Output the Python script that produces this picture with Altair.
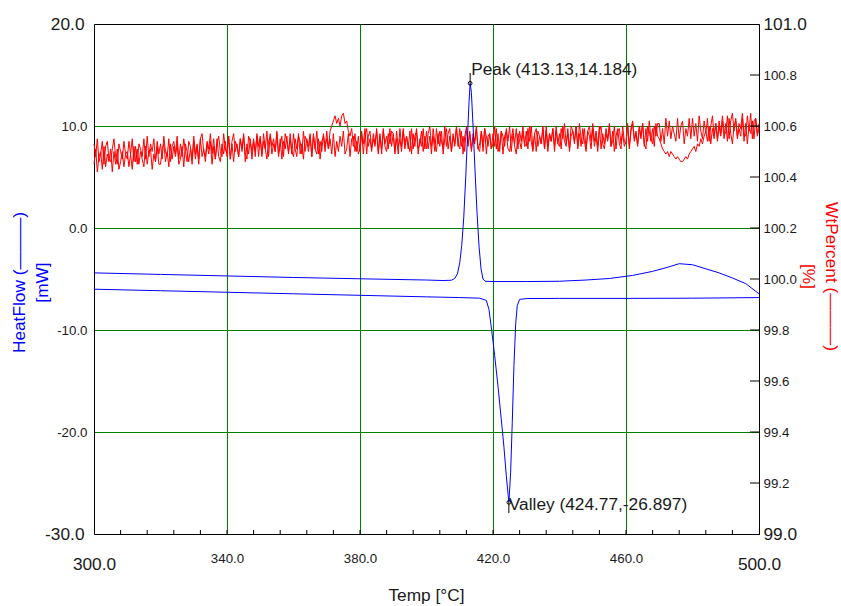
import altair as alt
import pandas as pd

# ---------------- data ----------------
# HeatFlow, heating run (upper blue trace)
t_up = [300, 320, 340, 360, 380, 400, 405, 407.5, 408.5, 409.3, 410.0, 410.6, 411.2, 411.8,
        412.3, 412.8, 413.13, 413.5, 414.0, 414.6, 415.2, 415.8, 416.4, 417.0, 417.6, 420,
        430, 440, 448, 455, 462, 468, 472, 476, 480, 484, 488, 492, 496, 500]
v_up = [-4.40, -4.55, -4.70, -4.85, -4.98, -5.10, -5.15, -5.12, -4.95, -4.50, -3.40, -1.70,
        1.00, 5.00, 8.80, 12.40, 14.184, 13.30, 10.00, 5.60, 1.50, -1.80, -4.00, -5.00, -5.22,
        -5.25, -5.25, -5.22, -5.10, -4.95, -4.65, -4.25, -3.90, -3.50, -3.60, -4.00, -4.40,
        -4.90, -5.45, -6.45]

# HeatFlow, cooling run (lower blue trace)
t_lo = [300, 320, 340, 360, 380, 400, 410, 416, 418, 418.8, 419.6, 420.5, 421.5, 422.5, 423.3,
        424.0, 424.77, 425.3, 425.8, 426.3, 426.8, 427.3, 428.0, 430, 440, 460, 480, 500]
v_lo = [-6.00, -6.15, -6.30, -6.45, -6.60, -6.75, -6.82, -6.88, -7.10, -8.00, -10.00, -12.50,
        -15.50, -18.80, -21.50, -24.30, -26.897, -24.00, -19.00, -13.50, -9.50, -7.60, -7.00,
        -6.92, -6.90, -6.90, -6.88, -6.82]

# WtPercent, sampled every 0.5 degC from 300 to 500 (two runs), one line per 10 degC
temps_wt = [300 + 0.5 * i for i in range(401)]
wt_a = [
    100.53, 100.48, 100.55, 100.46, 100.49, 100.54, 100.45, 100.52, 100.54, 100.47, 100.46, 100.51, 100.55, 100.48, 100.45, 100.53, 100.50, 100.47, 100.54, 100.49,
    100.47, 100.54, 100.49, 100.55, 100.46, 100.52, 100.45, 100.53, 100.51, 100.48, 100.55, 100.47, 100.56, 100.48, 100.53, 100.50, 100.55, 100.46, 100.54, 100.49,
    100.53, 100.47, 100.56, 100.50, 100.48, 100.55, 100.46, 100.52, 100.54, 100.49, 100.56, 100.47, 100.53, 100.48, 100.55, 100.50, 100.46, 100.54, 100.52, 100.47,
    100.56, 100.49, 100.53, 100.47, 100.55, 100.57, 100.50, 100.48, 100.54, 100.51, 100.57, 100.49, 100.55, 100.47, 100.53, 100.56, 100.50, 100.48, 100.57, 100.51,
    100.49, 100.56, 100.47, 100.54, 100.57, 100.50, 100.53, 100.48, 100.55, 100.51, 100.57, 100.49, 100.47, 100.56, 100.54, 100.50, 100.55, 100.48, 100.57, 100.52,
    100.56, 100.49, 100.54, 100.51, 100.58, 100.48, 100.57, 100.52, 100.55, 100.50, 100.58, 100.49, 100.52, 100.56, 100.48, 100.57, 100.54, 100.50, 100.55, 100.49,
    100.57, 100.51, 100.48, 100.56, 100.54, 100.49, 100.58, 100.50, 100.55, 100.52, 100.57, 100.48, 100.56, 100.51, 100.58, 100.49, 100.54, 100.50, 100.57, 100.52,
    100.55, 100.51, 100.58, 100.60, 100.62, 100.64, 100.61, 100.63, 100.60, 100.64, 100.65, 100.61, 100.62, 100.58, 100.56, 100.59, 100.52, 100.57, 100.50, 100.56,
    100.50, 100.57, 100.53, 100.59, 100.49, 100.56, 100.58, 100.51, 100.55, 100.52, 100.59, 100.50, 100.57, 100.49, 100.58, 100.53, 100.56, 100.51, 100.59, 100.52,
    100.57, 100.49, 100.58, 100.52, 100.55, 100.50, 100.59, 100.53, 100.56, 100.51, 100.58, 100.49, 100.57, 100.52, 100.59, 100.51, 100.53, 100.58, 100.50, 100.56,
    100.51, 100.57, 100.60, 100.52, 100.56, 100.50, 100.59, 100.53, 100.58, 100.54, 100.51, 100.60, 100.52, 100.57, 100.59, 100.50, 100.56, 100.53, 100.60, 100.52,
    100.59, 100.52, 100.56, 100.50, 100.60, 100.53, 100.58, 100.51, 100.57, 100.54, 100.60, 100.51, 100.53, 100.58, 100.50, 100.59, 100.56, 100.52, 100.57, 100.51,
    100.53, 100.60, 100.51, 100.57, 100.50, 100.58, 100.56, 100.52, 100.59, 100.54, 100.60, 100.50, 100.57, 100.53, 100.59, 100.51, 100.58, 100.54, 100.60, 100.52,
    100.58, 100.51, 100.60, 100.54, 100.50, 100.57, 100.59, 100.52, 100.56, 100.53, 100.60, 100.51, 100.58, 100.50, 100.57, 100.54, 100.59, 100.52, 100.60, 100.53,
    100.52, 100.59, 100.55, 100.61, 100.53, 100.57, 100.51, 100.60, 100.58, 100.54, 100.60, 100.52, 100.61, 100.55, 100.53, 100.59, 100.51, 100.58, 100.60, 100.54,
    100.61, 100.54, 100.58, 100.52, 100.60, 100.51, 100.57, 100.53, 100.59, 100.55, 100.61, 100.52, 100.54, 100.60, 100.51, 100.58, 100.59, 100.53, 100.57, 100.52,
    100.54, 100.61, 100.52, 100.59, 100.62, 100.55, 100.58, 100.53, 100.60, 100.56, 100.61, 100.52, 100.59, 100.54, 100.62, 100.55, 100.53, 100.60, 100.56, 100.61,
    100.61, 100.54, 100.59, 100.53, 100.63, 100.56, 100.62, 100.55, 100.60, 100.57, 100.54, 100.63, 100.55, 100.60, 100.62, 100.53, 100.59, 100.56, 100.63, 100.55,
    100.63, 100.56, 100.61, 100.54, 100.64, 100.58, 100.55, 100.62, 100.57, 100.63, 100.54, 100.60, 100.64, 100.56, 100.61, 100.55, 100.62, 100.57, 100.64, 100.58,
    100.57, 100.64, 100.55, 100.62, 100.65, 100.58, 100.63, 100.56, 100.61, 100.59, 100.65, 100.57, 100.56, 100.64, 100.58, 100.65, 100.55, 100.62, 100.63, 100.57,
    100.61,
]
wt_b = [
    100.45, 100.51, 100.42, 100.48, 100.50, 100.43, 100.52, 100.44, 100.49, 100.46, 100.51, 100.42, 100.50, 100.45, 100.51, 100.43, 100.46, 100.50, 100.44, 100.49,
    100.50, 100.44, 100.49, 100.43, 100.52, 100.46, 100.51, 100.45, 100.50, 100.47, 100.44, 100.52, 100.45, 100.50, 100.51, 100.43, 100.49, 100.46, 100.52, 100.45,
    100.45, 100.51, 100.53, 100.46, 100.50, 100.44, 100.53, 100.47, 100.52, 100.48, 100.53, 100.45, 100.47, 100.52, 100.44, 100.53, 100.50, 100.46, 100.51, 100.45,
    100.54, 100.47, 100.52, 100.45, 100.55, 100.48, 100.51, 100.46, 100.53, 100.49, 100.54, 100.45, 100.52, 100.47, 100.55, 100.48, 100.46, 100.53, 100.49, 100.54,
    100.48, 100.56, 100.47, 100.53, 100.46, 100.54, 100.52, 100.48, 100.55, 100.50, 100.56, 100.46, 100.53, 100.49, 100.55, 100.47, 100.54, 100.50, 100.56, 100.48,
    100.55, 100.48, 100.57, 100.51, 100.47, 100.54, 100.56, 100.49, 100.53, 100.50, 100.57, 100.48, 100.55, 100.47, 100.54, 100.51, 100.56, 100.49, 100.57, 100.50,
    100.48, 100.55, 100.51, 100.57, 100.49, 100.53, 100.47, 100.56, 100.54, 100.50, 100.56, 100.48, 100.57, 100.51, 100.49, 100.55, 100.47, 100.54, 100.56, 100.50,
    100.58, 100.51, 100.55, 100.49, 100.57, 100.48, 100.54, 100.50, 100.56, 100.52, 100.58, 100.49, 100.51, 100.57, 100.48, 100.55, 100.56, 100.50, 100.54, 100.49,
    100.51, 100.58, 100.49, 100.56, 100.59, 100.52, 100.55, 100.50, 100.57, 100.53, 100.58, 100.49, 100.56, 100.51, 100.59, 100.52, 100.50, 100.57, 100.53, 100.58,
    100.57, 100.50, 100.55, 100.49, 100.59, 100.52, 100.58, 100.51, 100.56, 100.53, 100.50, 100.59, 100.51, 100.56, 100.58, 100.49, 100.55, 100.52, 100.59, 100.51,
    100.58, 100.51, 100.56, 100.49, 100.59, 100.53, 100.50, 100.57, 100.52, 100.58, 100.49, 100.55, 100.59, 100.51, 100.56, 100.50, 100.57, 100.52, 100.59, 100.53,
    100.51, 100.58, 100.49, 100.56, 100.59, 100.52, 100.57, 100.50, 100.55, 100.53, 100.59, 100.51, 100.50, 100.58, 100.52, 100.59, 100.49, 100.56, 100.57, 100.51,
    100.57, 100.52, 100.59, 100.50, 100.53, 100.58, 100.49, 100.56, 100.58, 100.51, 100.50, 100.55, 100.59, 100.52, 100.49, 100.57, 100.54, 100.51, 100.58, 100.53,
    100.52, 100.59, 100.54, 100.60, 100.51, 100.57, 100.50, 100.58, 100.56, 100.53, 100.59, 100.51, 100.60, 100.52, 100.57, 100.54, 100.59, 100.50, 100.58, 100.53,
    100.57, 100.51, 100.60, 100.54, 100.52, 100.59, 100.50, 100.56, 100.58, 100.53, 100.60, 100.51, 100.57, 100.52, 100.59, 100.54, 100.50, 100.58, 100.56, 100.51,
    100.59, 100.52, 100.56, 100.50, 100.58, 100.60, 100.53, 100.51, 100.57, 100.54, 100.60, 100.52, 100.58, 100.50, 100.56, 100.59, 100.53, 100.51, 100.60, 100.54,
    100.53, 100.60, 100.51, 100.58, 100.61, 100.54, 100.57, 100.52, 100.59, 100.55, 100.61, 100.53, 100.51, 100.60, 100.58, 100.54, 100.59, 100.52, 100.61, 100.56,
    100.55, 100.53, 100.51, 100.50, 100.49, 100.50, 100.48, 100.50, 100.49, 100.48, 100.47, 100.48, 100.47, 100.46, 100.46, 100.47, 100.48, 100.47, 100.49, 100.50,
    100.51, 100.52, 100.50, 100.53, 100.52, 100.55, 100.53, 100.56, 100.58, 100.54, 100.60, 100.53, 100.59, 100.55, 100.61, 100.54, 100.60, 100.56, 100.62, 100.55,
    100.61, 100.54, 100.63, 100.57, 100.53, 100.60, 100.62, 100.55, 100.59, 100.56, 100.63, 100.54, 100.61, 100.53, 100.60, 100.57, 100.62, 100.55, 100.63, 100.56,
    100.59,
]
assert len(wt_a) == len(temps_wt) and len(wt_b) == len(temps_wt)

# axis tick values
x_major = [300, 340, 380, 420, 460, 500]
x_minor = [308, 316, 324, 332, 340, 348, 356, 364, 372, 380, 388, 396, 404, 412, 420, 428,
           436, 444, 452, 460, 468, 476, 484, 492]
hf_ticks = [20, 10, 0, -10, -20, -30]
wt_ticks = [99.0, 99.2, 99.4, 99.6, 99.8, 100.0, 100.2, 100.4, 100.6, 100.8, 101.0]
wt_inner_ticks = [99.2, 99.4, 99.6, 99.8, 100.0, 100.2, 100.4, 100.6, 100.8]

# annotations
peak = {"t": 413.13, "v": 14.184, "label": "Peak (413.13,14.184)", "v2": 15.2}
valley = {"t": 424.77, "v": -26.897, "label": "Valley (424.77,-26.897)", "v2": -27.95}

# ---------------- tables ----------------
hf_df = pd.DataFrame({
    "t": t_up + t_lo,
    "v": v_up + v_lo,
    "run": ["heat"] * len(t_up) + ["cool"] * len(t_lo),
})
wt_df = pd.DataFrame({
    "t": temps_wt + temps_wt,
    "w": wt_a + wt_b,
    "run": ["a"] * len(temps_wt) + ["b"] * len(temps_wt),
})
peak_df = pd.DataFrame([peak])
valley_df = pd.DataFrame([valley])

FONT = "Liberation Sans"
GREEN = "#008000"
TXT = "#1a1a1a"

def cond(test, a, b):
    return {"condition": {"test": test, "value": a}, "value": b}

x_axis = alt.Axis(
    values=x_major, format=".1f", title="Temp [°C]", orient="bottom",
    grid=True, gridColor=GREEN, gridWidth=1,
    gridOpacity=cond("datum.value == 300 || datum.value == 500", 0, 1),
    ticks=False, domainColor="black",
    labelFont=FONT, labelColor=TXT, labelBaseline="middle",
    labelFontSize=cond("datum.value == 300 || datum.value == 500", 17.3, 13.3),
    labelPadding=cond("datum.value == 300 || datum.value == 500", 30, 24),
    labelFlush=False, labelOverlap=False,
    titleFont=FONT, titleFontSize=17.3, titleFontWeight="normal", titleColor=TXT,
    titleX=332, titleY=61, titleAlign="center", titleBaseline="middle",
)
left_axis = alt.Axis(
    values=hf_ticks, orient="left",
    labelExpr="replace(format(datum.value, '.1f'), '\u2212', '-')",
    title=["HeatFlow (———)", "[mW]"],
    grid=True, gridColor=GREEN, gridWidth=1,
    gridOpacity=cond("datum.value == 20 || datum.value == -30", 0, 1),
    ticks=False, domainColor="black",
    labelFont=FONT, labelColor=TXT, labelBaseline="middle", labelAlign="right",
    labelFontSize=cond("datum.value == 20 || datum.value == -30", 17.3, 13.3),
    labelPadding=cond("datum.value == 20 || datum.value == -30", 10, 7),
    labelFlush=False, labelOverlap=False,
    titleFont=FONT, titleFontSize=17.3, titleFontWeight="normal", titleColor="#0000ff",
    titleAngle=270, titleX=-75, titleY=258, titleAlign="center", titleBaseline="middle",
    titleLineHeight=23,
)
right_axis = alt.Axis(
    values=wt_ticks, format=".1f", orient="right",
    title=["WtPercent (———)", "[%]"],
    grid=False, ticks=False, domainColor="black",
    labelFont=FONT, labelColor=TXT, labelBaseline="middle", labelAlign="left",
    labelFontSize=cond("datum.value == 99 || datum.value == 101", 17.3, 13.3),
    labelPadding=4, labelFlush=False, labelOverlap=False,
    titleFont=FONT, titleFontSize=17.3, titleFontWeight="normal", titleColor="#ff0000",
    titleAngle=90, titleX=71, titleY=252, titleAlign="center", titleBaseline="middle",
    titleLineHeight=23,
)

x_enc = alt.X("t:Q", scale=alt.Scale(domain=[300, 500], nice=False, zero=False), axis=x_axis)
y_hf = alt.Y("v:Q", scale=alt.Scale(domain=[-30, 20], nice=False, zero=False), axis=left_axis)
y_wt = alt.Y("w:Q", scale=alt.Scale(domain=[99, 101], nice=False, zero=False), axis=right_axis)

# ---------------- right (WtPercent) group ----------------
red = alt.Chart(wt_df).mark_line(color="#ff0000", strokeWidth=1).encode(
    x=x_enc, y=y_wt, detail="run:N")
right_ticks = alt.Chart(pd.DataFrame({"w": wt_inner_ticks})).mark_rule(
    color="black", strokeWidth=1).encode(y=y_wt, x=alt.value(656), x2=alt.value(665))
right_group = alt.layer(red, right_ticks)

# ---------------- left (HeatFlow) group ----------------
bottom_ticks = alt.Chart(pd.DataFrame({"t": x_minor})).mark_rule(
    color="black", strokeWidth=1).encode(x=x_enc, y=alt.value(510), y2=alt.value(506))
blue = alt.Chart(hf_df).mark_line(color="#0000ff", strokeWidth=1).encode(
    x=x_enc, y=y_hf, detail="run:N")

def annotation(df, dx, dy):
    rule = alt.Chart(df).mark_rule(color="black", strokeWidth=1).encode(
        x=x_enc, y=y_hf, y2=alt.Y2("v2:Q"))
    pt = alt.Chart(df).mark_point(shape="circle", size=14, filled=False, color="black",
                                  strokeWidth=1, opacity=1).encode(x=x_enc, y=y_hf)
    txt = alt.Chart(df).mark_text(align="left", baseline="middle", dx=dx, dy=dy, font=FONT,
                                  fontSize=17.3, color=TXT).encode(
        x=x_enc, y=y_hf, text="label:N")
    return [rule, pt, txt]

left_group = alt.layer(bottom_ticks, blue, *annotation(peak_df, 1, -13),
                       *annotation(valley_df, 0, 3))

chart = alt.layer(right_group, left_group).resolve_scale(y="independent").properties(
    width=665, height=510,
    padding={"left": 94, "top": 24, "right": 82, "bottom": 72},
    autosize=alt.AutoSizeParams(type="none"),
    background="white",
).configure_view(stroke="black", strokeWidth=1)

chart.save("out.html", embed_options={"renderer": "svg", "actions": False})
